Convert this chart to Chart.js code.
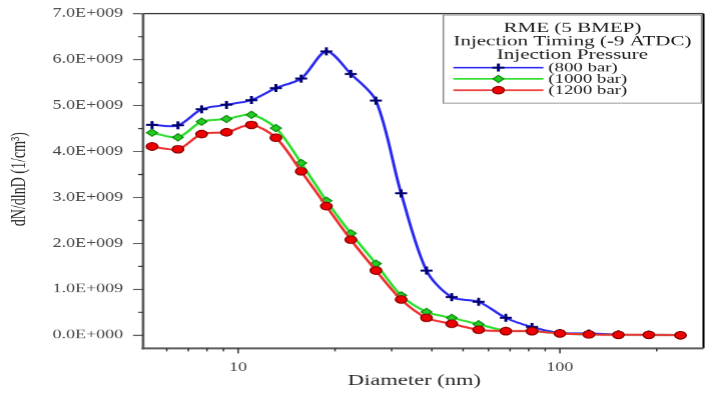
<!DOCTYPE html>
<html>
<head>
<meta charset="utf-8">
<script src="https://cdn.jsdelivr.net/npm/chart.js@4.4.1/dist/chart.umd.min.js"></script>
<style>
  html, body { margin:0; padding:0; background:#fff; overflow:hidden; }
  /* the reference is stretched sideways, so the whole chart is drawn narrow and widened */
  #wrap { width:475px; height:393px; transform:scaleX(1.50105); transform-origin:0 0; }
</style>
</head>
<body>
<div id="wrap"><canvas id="psd" width="475" height="393"></canvas></div>
<script>
// particle size distribution, RME at 5 BMEP, -9 ATDC
const diameters = [5.4, 6.5, 7.7, 9.2, 11.0, 13.1, 15.7, 18.8, 22.4, 26.8, 32.1, 38.5, 46.1, 55.9, 67.9, 81.9, 100, 123, 152, 189, 237];
const p800  = [4.58e9, 4.57e9, 4.92e9, 5.02e9, 5.12e9, 5.38e9, 5.59e9, 6.18e9, 5.69e9, 5.11e9, 3.09e9, 1.41e9, 0.83e9, 0.73e9, 0.38e9, 0.18e9, 0.05e9, 0.04e9, 0.02e9, 0.01e9, 0];
const p1000 = [4.41e9, 4.31e9, 4.65e9, 4.71e9, 4.80e9, 4.51e9, 3.75e9, 2.93e9, 2.22e9, 1.56e9, 0.87e9, 0.51e9, 0.38e9, 0.24e9, 0.10e9, 0.09e9, 0.04e9, 0.02e9, 0.01e9, 0.01e9, 0];
const p1200 = [4.11e9, 4.05e9, 4.38e9, 4.42e9, 4.58e9, 4.30e9, 3.57e9, 2.81e9, 2.08e9, 1.41e9, 0.78e9, 0.38e9, 0.25e9, 0.12e9, 0.09e9, 0.09e9, 0.04e9, 0.02e9, 0.01e9, 0.01e9, 0];

const yMajor = [0, 1e9, 2e9, 3e9, 4e9, 5e9, 6e9, 7e9];
const yLabels = ['0.0E+000', '1.0E+009', '2.0E+009', '3.0E+009', '4.0E+009', '5.0E+009', '6.0E+009', '7.0E+009'];
const yMinor = [0.5e9, 1.5e9, 2.5e9, 3.5e9, 4.5e9, 5.5e9, 6.5e9];
const xMajor = [10, 100];
const xLabels = ['10', '100'];
const xMinor = [6, 7, 8, 9, 20, 30, 40, 50, 60, 70, 80, 90, 200];

const legendTitle = ['RME (5 BMEP)', 'Injection Timing (-9 ATDC)', 'Injection Pressure'];
const seriesNames = ['(800 bar)', '(1000 bar)', '(1200 bar)'];

const SERIF = '"Liberation Serif", "DejaVu Serif", serif';
const S = 713 / 475;

const styles = [
  { line:'#2b2bf0', pointStyle:'cross', radius:4, fill:'#000070', edge:'#000070', edgeW:2 },
  { line:'#2ee02e', pointStyle:'rectRot', radius:3.6, fill:'#22cc22', edge:'#128a12', edgeW:1 },
  { line:'#ee3030', pointStyle:'circle', radius:3.8, fill:'#ee0000', edge:'#8a0000', edgeW:1 }
];
const series = [p800, p1000, p1200];

// axes lines, frame and the minor/major tick marks
const framePlugin = {
  id: 'frame',
  afterDatasetsDraw(chart) {
    const { ctx, chartArea: a, scales: { x, y } } = chart;
    ctx.save();
    ctx.strokeStyle = '#000';
    ctx.lineWidth = 1;
    ctx.beginPath(); ctx.moveTo(a.left, a.top); ctx.lineTo(a.right, a.top); ctx.stroke();
    ctx.lineWidth = 1.4;
    ctx.beginPath(); ctx.moveTo(a.right, a.top); ctx.lineTo(a.right, a.bottom); ctx.stroke();

    ctx.strokeStyle = '#5c5c5c';
    ctx.lineWidth = 1.8;
    ctx.beginPath(); ctx.moveTo(a.left, a.top); ctx.lineTo(a.left, a.bottom + 1); ctx.stroke();
    ctx.lineWidth = 2;
    ctx.beginPath(); ctx.moveTo(a.left - 1, a.bottom); ctx.lineTo(a.right, a.bottom); ctx.stroke();

    ctx.lineWidth = 1;
    ctx.strokeStyle = '#333';
    yMajor.forEach(v => { const p = y.getPixelForValue(v); ctx.beginPath(); ctx.moveTo(a.left - 6.7, p); ctx.lineTo(a.left, p); ctx.stroke(); });
    yMinor.forEach(v => { const p = y.getPixelForValue(v); ctx.beginPath(); ctx.moveTo(a.left - 3.3, p); ctx.lineTo(a.left, p); ctx.stroke(); });
    xMajor.forEach(v => { const p = x.getPixelForValue(v); ctx.beginPath(); ctx.moveTo(p, a.bottom); ctx.lineTo(p, a.bottom + 5); ctx.stroke(); });
    xMinor.forEach(v => { const p = x.getPixelForValue(v); ctx.beginPath(); ctx.moveTo(p, a.bottom); ctx.lineTo(p, a.bottom + 3); ctx.stroke(); });
    ctx.restore();
  }
};

// boxed legend with the three header lines + axis titles
const legendPlugin = {
  id: 'boxLegend',
  afterDraw(chart) {
    const ctx = chart.ctx;
    ctx.save();
    const bx = 443 / S, bw = (701 - 443) / S, by = 15, bh = 88;
    ctx.strokeStyle = '#8a8a8a';
    ctx.lineWidth = 1;
    ctx.strokeRect(bx, by, bw, bh);

    ctx.fillStyle = '#1a1a1a';
    ctx.textAlign = 'center';
    ctx.textBaseline = 'middle';
    ctx.font = '14px ' + SERIF;
    const cx = bx + bw / 2;
    legendTitle.forEach((t, i) => ctx.fillText(t, cx, 28 + i * 13.5));

    ctx.textAlign = 'left';
    ctx.font = '12.5px ' + SERIF;
    seriesNames.forEach((name, i) => {
      const yy = 67.5 + i * 11.3;
      const st = styles[i];
      ctx.strokeStyle = st.line;
      ctx.lineWidth = 1.6;
      ctx.beginPath(); ctx.moveTo(453 / S, yy); ctx.lineTo(543 / S, yy); ctx.stroke();
      ctx.fillStyle = st.fill;
      ctx.strokeStyle = st.edge;
      ctx.lineWidth = st.edgeW;
      Chart.helpers.drawPoint(ctx, { pointStyle: st.pointStyle, radius: st.radius, borderWidth: st.edgeW, rotation: 0 }, 498 / S, yy);
      ctx.fillStyle = '#1a1a1a';
      ctx.fillText(name, 548 / S, yy + 0.5);
    });

    // axis titles
    ctx.fillStyle = '#2a2a2a';
    ctx.textAlign = 'center';
    ctx.font = '15px ' + SERIF;
    ctx.fillText('Diameter (nm)', 414 / S, 381);
    ctx.translate(20 / S, 179);
    ctx.rotate(-Math.PI / 2);
    ctx.font = '14px ' + SERIF;
    ctx.fillText('dN/dlnD (1/cm\u00B3)', 0, 0);
    ctx.restore();
  }
};

new Chart(document.getElementById('psd'), {
  type: 'line',
  data: {
    labels: diameters,
    datasets: series.map((vals, i) => ({
      label: seriesNames[i],
      data: diameters.map((d, k) => ({ x: d, y: vals[k] })),
      borderColor: styles[i].line,
      borderWidth: 2,
      tension: 0.3,
      pointStyle: styles[i].pointStyle,
      pointRadius: styles[i].radius,
      pointBackgroundColor: styles[i].fill,
      pointBorderColor: styles[i].edge,
      pointBorderWidth: styles[i].edgeW,
      order: 2 - i
    }))
  },
  options: {
    responsive: false,
    devicePixelRatio: 1.5,
    animation: false,
    events: [],
    layout: { padding: { top: 12.7, right: 475 - 703 / S, left: 0, bottom: 0 } },
    plugins: { legend: { display: false }, tooltip: { enabled: false } },
    scales: {
      x: {
        type: 'logarithmic',
        min: 5.065,
        max: 279.5,
        afterBuildTicks: s => { s.ticks = xMajor.map(v => ({ value: v })); },
        afterFit: s => { s.height = 393 - 348; },
        grid: { drawOnChartArea: false, tickLength: 5, tickColor: 'rgba(0,0,0,0)' },
        border: { display: false },
        ticks: { autoSkip: false, maxRotation: 0, padding: 7, color: '#444', font: { family: SERIF, size: 12 },
                 callback: (v, i) => xLabels[i] }
      },
      y: {
        min: -0.283e9,
        max: 7e9,
        afterBuildTicks: s => { s.ticks = yMajor.map(v => ({ value: v })); },
        afterFit: s => { s.width = 143 / S; },
        grid: { drawOnChartArea: false, tickLength: 6.7, tickColor: 'rgba(0,0,0,0)' },
        border: { display: false },
        ticks: { autoSkip: false, padding: 6.5, color: '#444', font: { family: SERIF, size: 12 },
                 callback: (v, i) => yLabels[i] }
      }
    }
  },
  plugins: [framePlugin, legendPlugin]
});
</script>
</body>
</html>
